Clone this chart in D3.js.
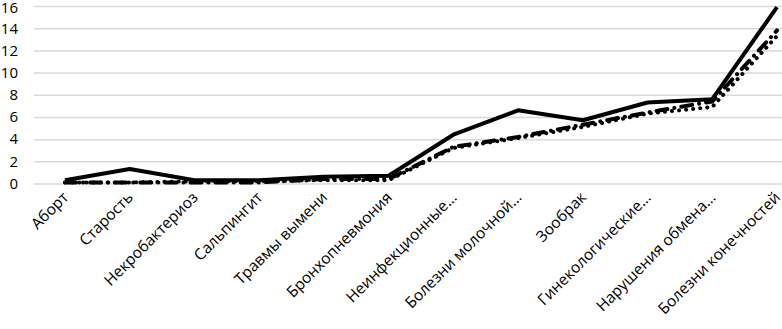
<!DOCTYPE html>
<html><head><meta charset="utf-8">
<script src="https://cdn.jsdelivr.net/npm/d3@7"></script>
<style>body{margin:0;background:#fff}svg{display:block}</style>
</head><body>
<svg id="c" width="782" height="329"></svg>
<script>
const categories = ["Аборт","Старость","Некробактериоз","Сальпингит","Травмы вымени","Бронхопневмония","Неинфекционные…","Болезни молочной…","Зообрак","Гинекологические…","Нарушения обмена…","Болезни конечностей"];
const solidValues   = [0.3, 1.3, 0.3, 0.3, 0.6, 0.7, 4.4, 6.6, 5.7, 7.3, 7.6, 15.9];
const dashDotValues = [0.1, 0.1, 0.1, 0.1, 0.4, 0.4, 3.3, 4.2, 5.3, 6.4, 7.4, 13.8];
const dottedValues  = [0.1, 0.1, 0.2, 0.2, 0.3, 0.3, 3.2, 4.1, 5.1, 6.3, 6.9, 13.3];
const yTicks = [0, 2, 4, 6, 8, 10, 12, 14, 16];

const svg = d3.select("#c");
const font = "'Open Sans', sans-serif";
const x = d3.scalePoint().domain(categories).range([65, 777]);
const y = d3.scaleLinear().domain([0, 16]).range([183.5, 6]);

// gridlines
const yAxis = d3.axisLeft(y).tickValues(yTicks).tickSize(-760).tickPadding(16);
const gy = svg.append("g").attr("transform", "translate(34,0)").call(yAxis);
gy.select(".domain").remove();
gy.selectAll(".tick line").attr("stroke", "#d9d9d9").attr("stroke-width", 1.5);
gy.selectAll(".tick text").attr("font-family", font).attr("font-size", 15).attr("fill", "#000").attr("x", -16)
  .attr("y", d => d === 16 ? 2 : 0);

// x labels
const xAxis = d3.axisBottom(x).tickSize(0).tickPadding(0);
const gx = svg.append("g").attr("transform", "translate(0,183.5)").call(xAxis);
gx.select(".domain").remove();
gx.selectAll(".tick text")
  .attr("font-family", font).attr("font-size", 15.5).attr("fill", "#000")
  .attr("text-anchor", "end")
  .attr("dy", "0.35em")
  .attr("transform", "translate(0,11) rotate(-45)")
  .attr("x", 0).attr("y", 0);

const line = d3.line().x((d, i) => x(categories[i])).y(d => y(d));
const series = [
  {v: dottedValues, dash: "0.1,7"},
  {v: dashDotValues, dash: "11,7,0.1,7"},
  {v: solidValues, dash: null}
];
series.forEach(s => {
  svg.append("path").datum(s.v).attr("d", line)
    .attr("fill", "none").attr("stroke", "#000").attr("stroke-width", 4)
    .attr("stroke-linecap", s.dash ? "round" : "butt")
    .attr("stroke-linejoin", "round")
    .attr("stroke-dasharray", s.dash);
});
</script>
</body></html>
